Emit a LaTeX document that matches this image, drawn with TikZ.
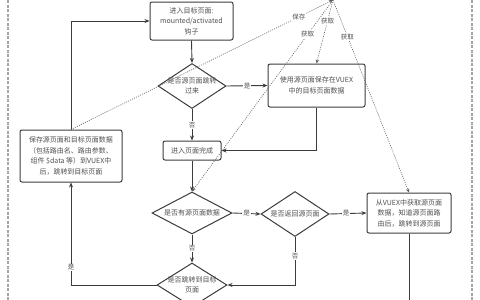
\documentclass[tikz,border=0pt]{standalone}
\usepackage{fontspec}
\setmainfont{Noto Sans CJK SC}
\usetikzlibrary{arrows.meta,shapes.geometric}
\definecolor{lc}{HTML}{3C3C3C}
\definecolor{tc}{HTML}{505050}
\definecolor{dc}{HTML}{606060}
\begin{document}
\begin{tikzpicture}[x=1pt,y=-1pt,
  box/.style={draw=lc, line width=1pt, rounded corners=2pt, fill=white, align=center,
    font=\fontsize{7}{10.5}\selectfont, text=tc, inner sep=0pt},
  dia/.style={draw=lc, line width=1pt, diamond, fill=white, inner sep=0pt},
  dtxt/.style={align=center, font=\fontsize{7}{10}\selectfont, text=tc, inner sep=0pt},
  arr/.style={draw=lc, line width=0.9pt, -{Stealth[length=5pt,width=4pt]}},
  ln/.style={draw=lc, line width=0.9pt},
  dot/.style={draw=dc, line width=0.6pt, dash pattern=on 1pt off 1.2pt, -{Stealth[length=4pt,width=3.5pt]}},
  lab/.style={font=\fontsize{6.5}{8}\selectfont, text=tc, fill=white, inner sep=1pt},
  border/.style={draw=gray!70, line width=1.4pt, dash pattern=on 3pt off 1.5pt}
]
\useasboundingbox (0,0) rectangle (480,300);
\begin{scope}
\clip (0,0) rectangle (480,300);
% borders
\coordinate (lt) at (8,0); \coordinate (lb) at (8,300);
\coordinate (rt) at (472,0); \coordinate (rb) at (472,300);
\draw[border] (lt) -- (lb);
\draw[border] (rt) -- (rb);

% nodes
\node[box, minimum width=83pt, minimum height=38pt] (A) at (191.5,21) {进入目标页面:\\mounted/activated\\钩子};
\node[dia, minimum width=68pt, minimum height=45pt] (B) at (192,86) {};
\node[dtxt] (Bt) at (B.center) {是否源页面跳转\\过来};
\node[box, minimum width=97pt, minimum height=43pt] (C) at (316.5,85.5) {使用源页面保存在VUEX\\中的目标页面数据};
\node[box, minimum width=58pt, minimum height=19pt] (D) at (192,150.5) {进入页面完成};
\node[dia, minimum width=80pt, minimum height=42pt] (E) at (192,213) {};
\node[dtxt] (Et) at (E.center) {是否有源页面数据};
\node[dia, minimum width=68pt, minimum height=45pt] (F) at (295,214) {};
\node[dtxt] (Ft) at (F.center) {是否返回源页面};
\node[box, minimum width=84pt, minimum height=40pt] (G) at (409,213) {从VUEX中获取源页面\\数据，知道源页面路\\由后，跳转到源页面};
\node[dia, minimum width=70pt, minimum height=44pt] (H) at (192,285) {};
\node[dtxt] (Ht) at (H.center) {是否跳转到目标\\页面};
\node[box, minimum width=102pt, minimum height=52pt] (I) at (71,156) {保存源页面和目标页面数据\\（包括路由名、路由参数、\\组件 \$data 等）到VUEX中\\后，跳转到目标页面};

\coordinate (vx) at (333,0);
\coordinate (gout) at (409,300);

% solid connectors
\draw[arr] (I.north) |- (A.west);
\draw[arr] (A.south) -- (B.north);
\draw[arr] (B.east) -- node[lab]{是} (C.west);
\draw[arr] (B.south) -- node[lab]{否} (D.north);
\draw[arr] (C.south) |- (D.east);
\draw[arr] (D.south) -- (E.north);
\draw[arr] (E.east) -- node[lab]{是} (F.west);
\draw[arr] (E.south) -- node[lab]{否} (H.north);
\draw[arr] (F.east) -- node[lab, pos=0.45]{是} (G.west);
\draw[arr] (F.south) |- node[lab, pos=0.2]{否} (H.east);
\draw[arr] (H.west) -| node[lab, pos=0.585]{是} (I.south);
\draw[ln] (G.south) -- (gout);

% dotted connectors
\draw[dot] (I.north) -- node[lab, pos=0.87]{保存} (vx);
\draw[dot] (vx) -- node[lab, pos=0.18]{获取} (E.north);
\draw[dot] (vx) -- node[lab, pos=0.33]{获取} (C.north);
\draw[dot] (vx) -- node[lab, pos=0.19]{获取} (G.north);
\end{scope}
\end{tikzpicture}
\end{document}
